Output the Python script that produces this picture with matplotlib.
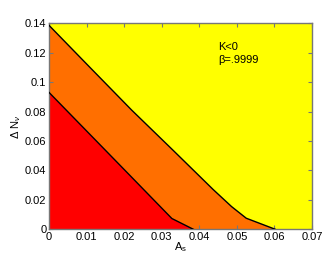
import numpy as np
import matplotlib
matplotlib.use('Agg')
import matplotlib.pyplot as plt

plt.rcParams['font.family'] = ['Liberation Sans', 'DejaVu Sans']
plt.rcParams['mathtext.fontset'] = 'custom'
plt.rcParams['mathtext.rm'] = 'Liberation Sans'
plt.rcParams['mathtext.it'] = 'Liberation Sans:italic'

# boundary curves
upper_x = [0.0, 0.0109, 0.0220, 0.0331, 0.0437, 0.0486, 0.0525, 0.0602]
upper_y = [0.1386, 0.110, 0.081, 0.0535, 0.027, 0.0154, 0.0075, 0.0]
lower_x = [0.0, 0.0189, 0.0327, 0.0384]
lower_y = [0.093, 0.0435, 0.0073, 0.0]

xticks = [0, 0.01, 0.02, 0.03, 0.04, 0.05, 0.06, 0.07]
yticks = [0, 0.02, 0.04, 0.06, 0.08, 0.1, 0.12, 0.14]
xtick_labels = ['0', '0.01', '0.02', '0.03', '0.04', '0.05', '0.06', '0.07']
ytick_labels = ['0', '0.02', '0.04', '0.06', '0.08', '0.1', '0.12', '0.14']

fig = plt.figure(figsize=(3.27, 2.62), dpi=100)
ax = fig.add_axes([0.150, 0.125, 0.804, 0.786])
ax.set_facecolor('#ffff00')

ax.fill([0] + upper_x, [0] + upper_y, color='#ff6f00', lw=0, zorder=1)
ax.fill([0] + lower_x, [0] + lower_y, color='#ff0000', lw=0, zorder=2)
ax.plot(upper_x, upper_y, color='black', lw=1.0, zorder=3)
ax.plot(lower_x, lower_y, color='black', lw=1.0, zorder=3)

ax.set_xlim(0, 0.07)
ax.set_ylim(0, 0.14)
ax.set_xticks(xticks)
ax.set_xticklabels(xtick_labels)
ax.set_yticks(yticks)
ax.set_yticklabels(ytick_labels)
ax.tick_params(direction='in', top=True, right=True, length=3,
               labelsize=8, color='#777777', pad=2)
for s in ax.spines.values():
    s.set_color('#777777')
    s.set_linewidth(1.0)

ax.text(0.045, 0.127, 'K<0\nβ=.9999', fontsize=8, va='top', ha='left',
        linespacing=1.35)
ax.set_xlabel(r'A$_{\mathrm{s}}$', fontsize=8, labelpad=-1)
ax.set_ylabel(r'$\Delta$ N$_{\nu}$', fontsize=8, labelpad=1)

fig.savefig('out.png', dpi=100)
